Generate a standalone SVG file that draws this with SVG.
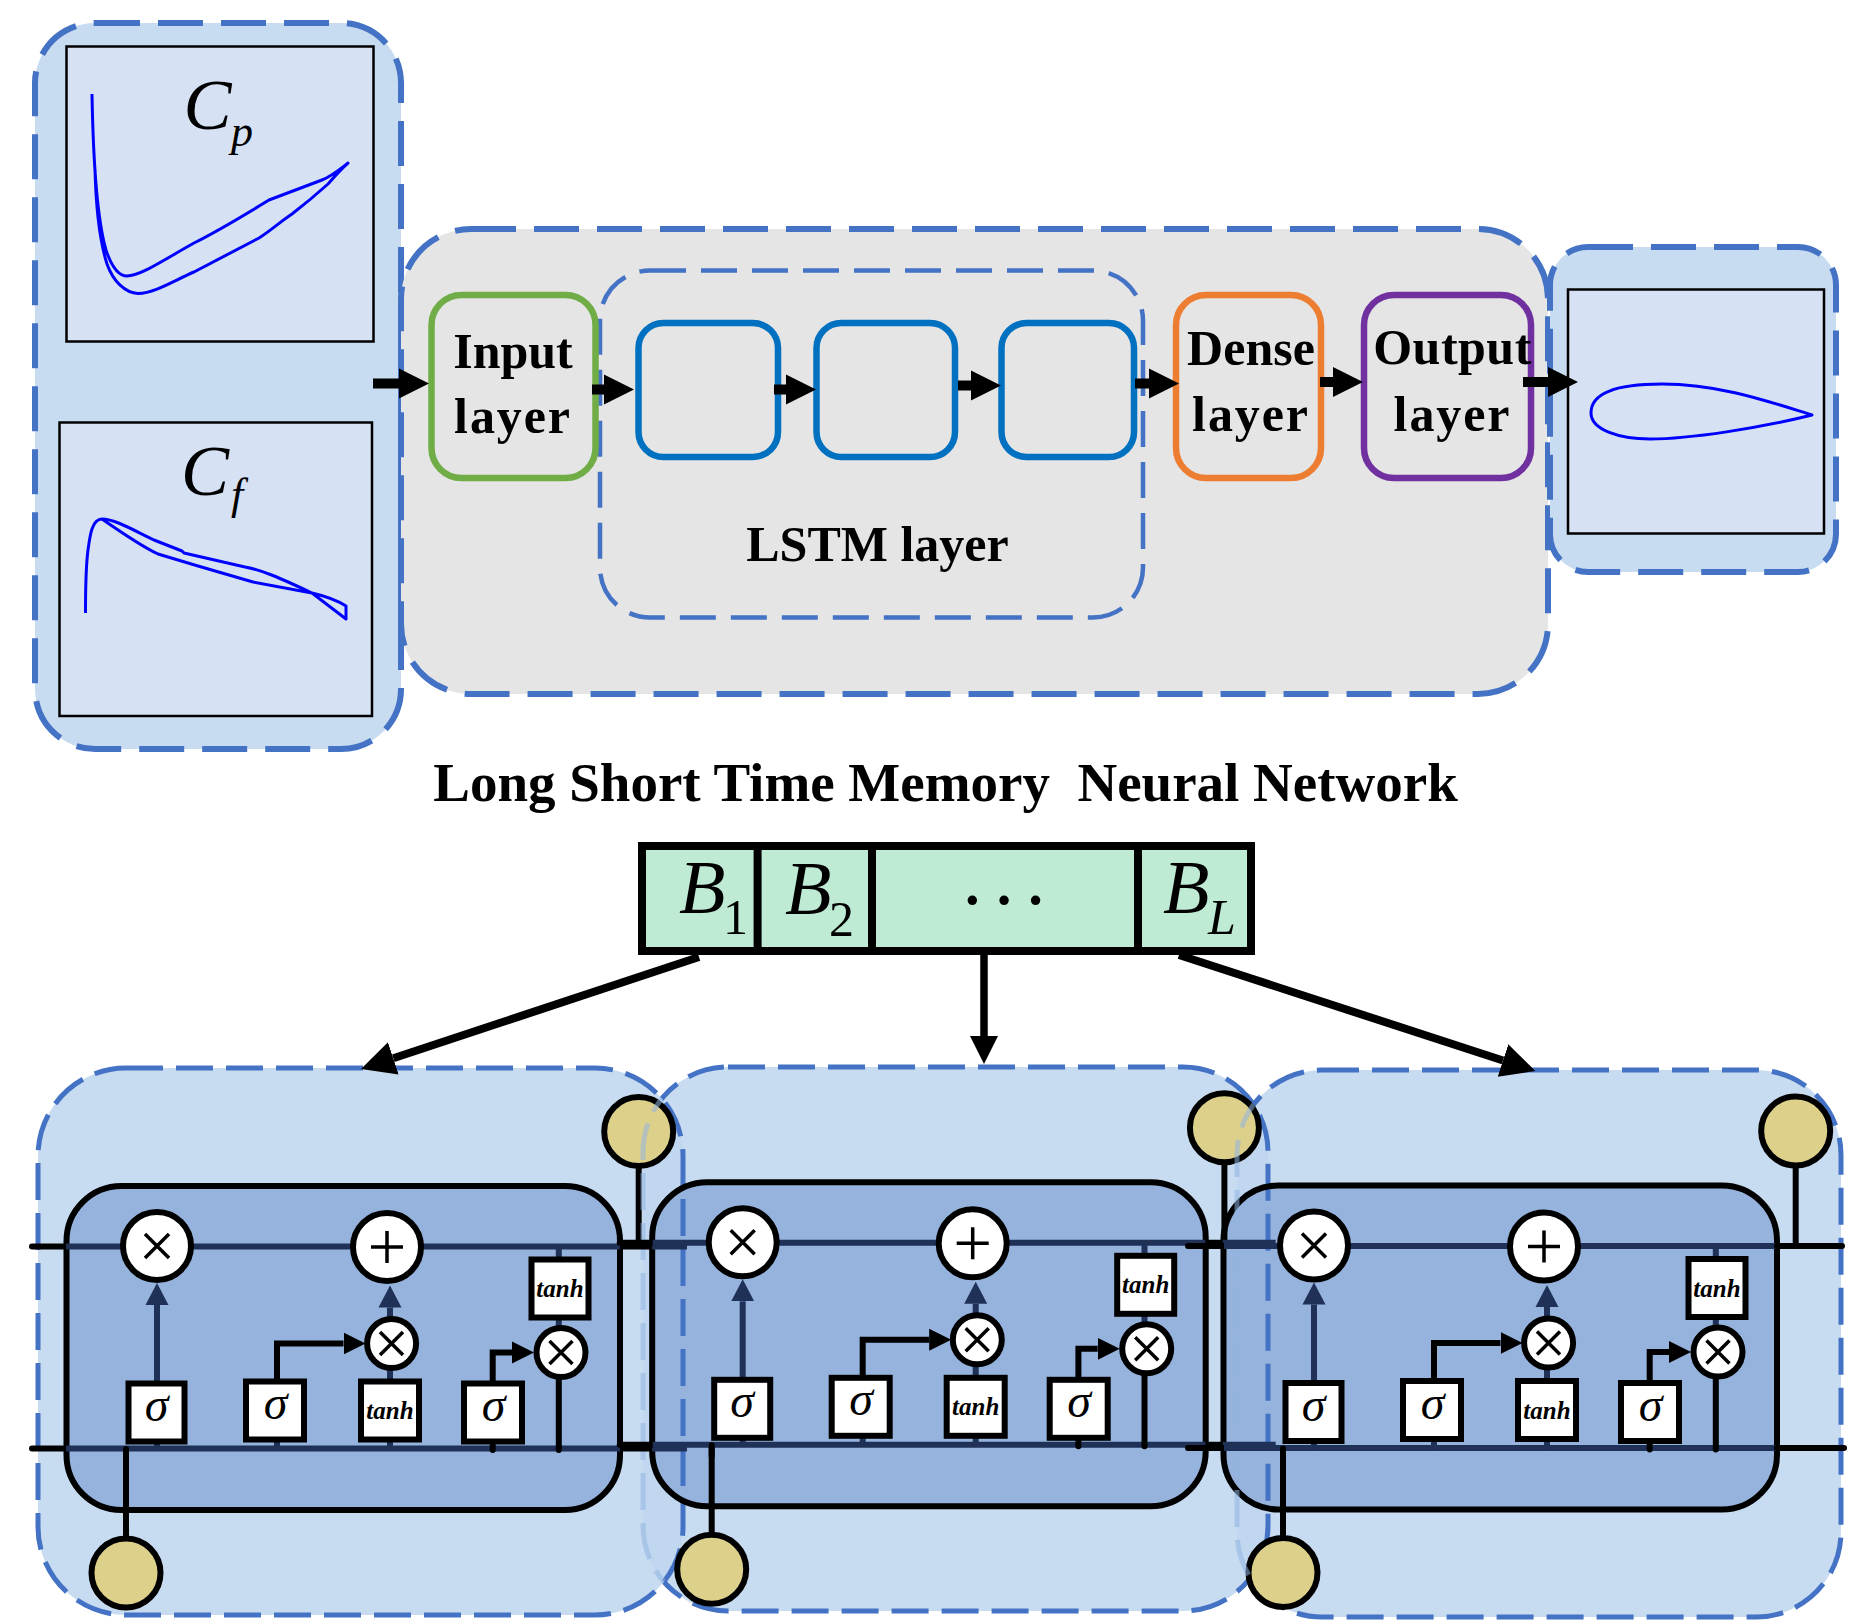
<svg xmlns="http://www.w3.org/2000/svg" width="1856" height="1620" viewBox="0 0 1856 1620">
<style>
text{font-family:"Liberation Serif","Times New Roman",serif;fill:#000}
.lb{font-weight:bold;font-size:50px;text-anchor:middle}
.ly{letter-spacing:1.9px}
.mi{font-style:italic}
.sg{font-style:italic;font-size:48px;text-anchor:middle}
.th{font-style:italic;font-weight:bold;font-size:25px;text-anchor:middle}
.pan{fill:#c8dcf1;stroke:#4472c4;stroke-width:6;stroke-dasharray:45 18}
.gr{fill:#e5e5e5;stroke:#4472c4;stroke-width:6;stroke-dasharray:45 18}
.ls{fill:none;stroke:#4472c4;stroke-width:4.5;stroke-dasharray:36 15}
.plot{fill:#d6e2f3;stroke:#000;stroke-width:2.5}
.cv{fill:none;stroke:#0000ff;stroke-width:3;stroke-linejoin:round}
.cell{fill:none;stroke-width:6.500}
.ar{stroke:#000;stroke-width:10;fill:none;marker-end:url(#hb)}
.am{stroke:#000;stroke-width:7.5;fill:none;marker-end:url(#hm)}
.ad{stroke:#000;stroke-width:8;fill:none;marker-end:url(#hd)}
.ofill{fill:#c8dcf1;stroke:none}
.lens{fill:#a9c6e8;opacity:.22;stroke:none}
.ifill{fill:#95b3dc;stroke:none}
.iline{fill:none;stroke:#000;stroke-width:6}
.ostr{fill:none;stroke:#4472c4;stroke-width:5;stroke-dasharray:37 13}
.ofaint{fill:none;stroke:#8fb4e2;stroke-width:5;stroke-dasharray:37 13;opacity:.55}
.k{stroke:#000;stroke-width:6;fill:none;stroke-linecap:round}
.kb{stroke:#000;stroke-width:6;fill:none}
.nv{stroke:#1f3157;stroke-width:6;fill:none}
.st{fill:#ddd08b;stroke:#000;stroke-width:6}
.op{fill:#fff;stroke:#000;stroke-width:6}
.bx{fill:#fff;stroke:#000;stroke-width:6}
.sy{stroke:#000;stroke-width:3.5;fill:none}
.bar{fill:#bfead4;stroke:#000;stroke-width:8}
</style>
<defs>
<marker id="hb" markerUnits="userSpaceOnUse" markerWidth="32" markerHeight="32" refX="0" refY="16" orient="auto"><path d="M0 1L30 16L0 31Z" fill="#000"/></marker>
<marker id="hm" markerUnits="userSpaceOnUse" markerWidth="32" markerHeight="32" refX="0" refY="16" orient="auto"><path d="M0 2L28 16L0 30Z" fill="#000"/></marker>
<marker id="hd" markerUnits="userSpaceOnUse" markerWidth="36" markerHeight="36" refX="0" refY="18" orient="auto"><path d="M0 1L34 18L0 35Z" fill="#000"/></marker>
<marker id="hn" markerUnits="userSpaceOnUse" markerWidth="26" markerHeight="26" refX="0" refY="13" orient="auto"><path d="M0 1.5L22 13L0 24.5Z" fill="#1f3157"/></marker>
<marker id="hk" markerUnits="userSpaceOnUse" markerWidth="26" markerHeight="26" refX="0" refY="13" orient="auto"><path d="M0 2L22 13L0 24Z" fill="#000"/></marker>
<rect id="o1" x="38" y="1068" width="645" height="547" rx="88"/>
<rect id="o2" x="643" y="1067" width="625" height="544" rx="85"/>
<rect id="o3" x="1237" y="1070" width="604" height="547" rx="85"/>
<rect id="i1" x="66.500" y="1186" width="553.500" height="324" rx="55"/>
<rect id="i2" x="652.200" y="1182.300" width="553.500" height="324" rx="55"/>
<rect id="i3" x="1223.500" y="1185.500" width="553.500" height="324" rx="55"/>
<clipPath id="in1"><use href="#o1"/></clipPath>
<clipPath id="in2"><use href="#o2"/></clipPath>
<clipPath id="out1"><path clip-rule="evenodd" d="M0 0H1856V1620H0Z M126 1068H595A88 88 0 0 1 683 1156V1527A88 88 0 0 1 595 1615H126A88 88 0 0 1 38 1527V1156A88 88 0 0 1 126 1068Z"/></clipPath>
<clipPath id="out2"><path clip-rule="evenodd" d="M0 0H1856V1620H0Z M728 1067H1183A85 85 0 0 1 1268 1152V1526A85 85 0 0 1 1183 1611H728A85 85 0 0 1 643 1526V1152A85 85 0 0 1 728 1067Z"/></clipPath>
</defs>

<g id="input-panel">
<rect class="pan" x="35" y="23" width="366" height="726" rx="60"/>
<g id="cp-plot">
<rect class="plot" x="66.500" y="46.500" width="307" height="295"/>
<path class="cv" d="M92 94C93 150 96 215 106 250C112 268 119 276 127 276C140 276 160 262 194 243C210 235 225 227 269 200L322 180C332 176 340 169 348 163C340 170 335 176 328 184C318 193 305 204 292 214C280 222 270 231 259 238L194 272C175 280 155 293 138 293.500C125 293 113 281 107 264C101 245 96 210 95 169"/>
<text x="183.500" y="129" font-size="72" class="mi">C</text><text x="231" y="146" font-size="44" class="mi">p</text>
</g>
<g id="cf-plot">
<rect class="plot" x="59.500" y="422.500" width="312.500" height="293.500"/>
<path class="cv" d="M85.500 613C85.500 585 86 565 88 550C90 535 92 519 102 519C115 519 135 531 154 540L182 551L184 553L245 567C262 570 280 578 312 593L346 619V606C335 599 325 596 312 593L253 582L198 566L158 554C145 548 125 535 102 519"/>
<text x="181" y="494.500" font-size="72" class="mi">C</text><text x="231" y="509" font-size="44" class="mi">f</text>
</g>
</g>

<g id="network-panel">
<rect class="gr" x="401" y="229" width="1147" height="465" rx="70"/>
<rect class="ls" x="600" y="270.500" width="543" height="347" rx="50"/>
<g id="input-layer"><rect class="cell" stroke="#70ad47" x="431.500" y="295" width="164" height="183" rx="30"/><text class="lb" x="513" y="368">Input</text><text class="lb ly" x="513" y="433">layer</text></g>
<g id="lstm-1"><rect class="cell" stroke="#0070c0" x="638.500" y="323" width="139.500" height="134" rx="25"/></g>
<g id="lstm-2"><rect class="cell" stroke="#0070c0" x="816.500" y="323" width="138.500" height="134" rx="25"/></g>
<g id="lstm-3"><rect class="cell" stroke="#0070c0" x="1001.500" y="323" width="132.500" height="134" rx="25"/></g>
<g id="lstm-label"><text class="lb" x="877.500" y="561">LSTM layer</text></g>
<g id="dense-layer"><rect class="cell" stroke="#ed7d31" x="1176" y="295" width="145" height="183" rx="30"/><text class="lb" x="1251" y="365">Dense</text><text class="lb ly" x="1251" y="431">layer</text></g>
<g id="output-layer"><rect class="cell" stroke="#7030a0" x="1364" y="295" width="167" height="183" rx="30"/><text class="lb" style="letter-spacing:.5px" x="1452.500" y="364">Output</text><text class="lb ly" x="1452.500" y="430.500">layer</text></g>
</g>

<g id="output-panel">
<rect class="pan" x="1550" y="247" width="286" height="325" rx="38"/>
<rect class="plot" x="1568" y="289.500" width="256" height="244"/>
<path class="cv" d="M1812 415C1770 402 1720 384 1662 384C1620 384 1591 392 1591 413C1591 430 1620 439 1650 439C1690 439 1760 428 1812 415Z"/>
</g>

<g id="top-connectors">
<path class="ar" d="M373 383.500H399"/>
<path class="ar" d="M592 389.500H604"/>
<path class="ar" d="M774 389.500H786"/>
<path class="ar" d="M958 385.500H971"/>
<path class="ar" d="M1135 383.500H1149"/>
<path class="ar" d="M1320 382H1333"/>
<path class="ar" d="M1523 382H1548"/>
</g>

<g id="title"><text x="945.500" y="801" font-size="55" font-weight="bold" text-anchor="middle" style="white-space:pre">Long Short Time Memory  Neural Network</text></g>

<g id="sequence">
<rect class="bar" x="642" y="846" width="609" height="105"/>
<path d="M757.600 846V951M872 846V951M1138 846V951" stroke="#000" stroke-width="8" fill="none"/>
<g id="b1"><text x="679" y="913" font-size="76" class="mi">B</text><text x="723" y="934" font-size="50">1</text></g>
<g id="b2"><text x="785" y="914" font-size="76" class="mi">B</text><text x="829" y="936" font-size="50">2</text></g>
<g id="bdots"><text x="959" y="926.500" font-size="80" letter-spacing="5">···</text></g>
<g id="bl"><text x="1163" y="913" font-size="76" class="mi">B</text><text x="1208" y="934" font-size="50" class="mi">L</text></g>
</g>

<g id="cell-backgrounds">
<use href="#o1" class="ofill"/><use href="#o2" class="ofill"/><use href="#o3" class="ofill"/>
<use href="#o2" class="lens" clip-path="url(#in1)"/><use href="#o3" class="lens" clip-path="url(#in2)"/>
<use href="#i1" class="ifill"/><use href="#i2" class="ifill"/><use href="#i3" class="ifill"/>
<use href="#o1" class="ostr"/>
<g clip-path="url(#out1)"><use href="#o2" class="ostr"/></g>
<g clip-path="url(#out2)"><use href="#o3" class="ostr"/></g>
<use href="#i1" class="iline"/><use href="#i2" class="iline"/><use href="#i3" class="iline"/>
</g>

<g id="sequence-connectors">
<path class="ad" d="M699 957L393.300 1058.300"/>
<path class="am" d="M984 955V1036"/>
<path class="ad" d="M1179 955L1503 1060.500"/>
</g>

<g id="cell-1-states">
<path class="kb" d="M638.700 1168V1247"/><circle class="st" cx="638.700" cy="1131.500" r="34.500"/>
<path class="kb" d="M126 1449V1540"/><circle class="st" cx="126" cy="1573" r="34.500"/>
</g>
<g id="cell-2-states" transform="translate(585.700,-3.700)">
<path class="kb" d="M638.700 1168V1247"/><circle class="st" cx="638.700" cy="1131.500" r="34.500"/>
<path class="kb" d="M126 1449V1540"/><circle class="st" cx="126" cy="1573" r="34.500"/>
</g>
<g id="cell-3-states" transform="translate(1157,-0.500)">
<path class="kb" d="M638.700 1168V1247"/><circle class="st" cx="638.700" cy="1131.500" r="34.500"/>
<path class="kb" d="M126 1449V1540"/><circle class="st" cx="126" cy="1573" r="34.500"/>
</g>
<g id="cell-overlaps">
<g clip-path="url(#in1)"><use href="#o2" class="ofaint"/></g>
<g clip-path="url(#in2)"><use href="#o3" class="ofaint"/></g>
</g>

<g id="cell-1">
<path class="k" d="M32 1246.500H66M32 1448.500H66"/>
<path class="nv" d="M66 1246.500H620M66 1448.500H620"/>
<path class="kb" d="M620 1246.500H652M620 1448.500H652"/>
<path class="nv" d="M652 1246.500H687M652 1448.500H687"/>
<path class="nv" d="M157 1442V1449M277 1442V1449M390 1442V1449M558.800 1247V1258M558.800 1318V1328M390 1380V1364"/>
<path class="nv" d="M157 1383V1305" style="marker-end:url(#hn)"/>
<path class="nv" d="M390 1322V1307.500" style="marker-end:url(#hn)"/>
<path class="k" d="M126 1449V1460M492.700 1443V1450M558.800 1376V1450"/>
<path class="kb" d="M277 1381V1343.500H343.500" style="marker-end:url(#hk)"/>
<path class="kb" d="M492.700 1383V1352.500H512" style="marker-end:url(#hk)"/>
<g id="c1-mul"><circle class="op" cx="157" cy="1246" r="34"/><path class="sy" d="M145 1234L169 1258M169 1234L145 1258"/></g>
<g id="c1-add"><circle class="op" cx="387" cy="1247" r="34"/><path class="sy" d="M371 1247H403M387 1231V1263"/></g>
<g id="c1-mul2"><circle class="op" cx="391.600" cy="1343.500" r="24.500"/><path class="sy" d="M380 1332L403 1355M403 1332L380 1355"/></g>
<g id="c1-mul3"><circle class="op" cx="561" cy="1352.500" r="24.500"/><path class="sy" d="M549.500 1341L572.500 1364M572.500 1341L549.500 1364"/></g>
<g id="c1-s1"><rect class="bx" x="128.500" y="1383.500" width="56" height="58"/><text class="sg" x="156.500" y="1421">σ</text></g>
<g id="c1-s2"><rect class="bx" x="246" y="1381.500" width="58" height="58"/><text class="sg" x="275.500" y="1419">σ</text></g>
<g id="c1-t1"><rect class="bx" x="361" y="1381.500" width="58" height="58"/><text class="th" x="390" y="1419">tanh</text></g>
<g id="c1-s3"><rect class="bx" x="464" y="1383.500" width="58" height="58"/><text class="sg" x="493.500" y="1421">σ</text></g>
<g id="c1-t2"><rect class="bx" x="531.500" y="1259.500" width="57" height="58"/><text class="th" x="560" y="1297">tanh</text></g>
</g>

<g id="cell-2" transform="translate(585.700,-3.700)">
<path class="k" d="M34 1246.500H67M34 1448.500H67"/>
<path class="nv" d="M67 1246.500H620M67 1448.500H620"/>
<path class="kb" d="M620 1246.500H637M620 1448.500H637"/>
<path class="nv" d="M637 1246.500H690M637 1448.500H690"/>
<path class="nv" d="M157 1442V1449M277 1442V1449M390 1442V1449M558.800 1247V1258M558.800 1318V1328M390 1380V1364"/>
<path class="nv" d="M157 1383V1305" style="marker-end:url(#hn)"/>
<path class="nv" d="M390 1322V1307.500" style="marker-end:url(#hn)"/>
<path class="k" d="M126 1449V1460M492.700 1443V1450M558.800 1376V1450"/>
<path class="kb" d="M277 1381V1343.500H343.500" style="marker-end:url(#hk)"/>
<path class="kb" d="M492.700 1383V1352.500H512" style="marker-end:url(#hk)"/>
<g id="c2-mul"><circle class="op" cx="157" cy="1246" r="34"/><path class="sy" d="M145 1234L169 1258M169 1234L145 1258"/></g>
<g id="c2-add"><circle class="op" cx="387" cy="1247" r="34"/><path class="sy" d="M371 1247H403M387 1231V1263"/></g>
<g id="c2-mul2"><circle class="op" cx="391.600" cy="1343.500" r="24.500"/><path class="sy" d="M380 1332L403 1355M403 1332L380 1355"/></g>
<g id="c2-mul3"><circle class="op" cx="561" cy="1352.500" r="24.500"/><path class="sy" d="M549.500 1341L572.500 1364M572.500 1341L549.500 1364"/></g>
<g id="c2-s1"><rect class="bx" x="128.500" y="1383.500" width="56" height="58"/><text class="sg" x="156.500" y="1421">σ</text></g>
<g id="c2-s2"><rect class="bx" x="246" y="1381.500" width="58" height="58"/><text class="sg" x="275.500" y="1419">σ</text></g>
<g id="c2-t1"><rect class="bx" x="361" y="1381.500" width="58" height="58"/><text class="th" x="390" y="1419">tanh</text></g>
<g id="c2-s3"><rect class="bx" x="464" y="1383.500" width="58" height="58"/><text class="sg" x="493.500" y="1421">σ</text></g>
<g id="c2-t2"><rect class="bx" x="531.500" y="1259.500" width="57" height="58"/><text class="th" x="560" y="1297">tanh</text></g>
</g>

<g id="cell-3" transform="translate(1157,-0.500)">
<path class="k" d="M31 1246.500H67M31 1448.500H67"/>
<path class="nv" d="M67 1246.500H620M67 1448.500H620"/>
<path class="k" d="M620 1246.500H685M620 1448.500H687"/>
<path class="nv" d="M157 1442V1449M277 1442V1449M390 1442V1449M558.800 1247V1258M558.800 1318V1328M390 1380V1364"/>
<path class="nv" d="M157 1383V1305" style="marker-end:url(#hn)"/>
<path class="nv" d="M390 1322V1307.500" style="marker-end:url(#hn)"/>
<path class="k" d="M126 1449V1460M492.700 1443V1450M558.800 1376V1450"/>
<path class="kb" d="M277 1381V1343.500H343.500" style="marker-end:url(#hk)"/>
<path class="kb" d="M492.700 1383V1352.500H512" style="marker-end:url(#hk)"/>
<g id="c3-mul"><circle class="op" cx="157" cy="1246" r="34"/><path class="sy" d="M145 1234L169 1258M169 1234L145 1258"/></g>
<g id="c3-add"><circle class="op" cx="387" cy="1247" r="34"/><path class="sy" d="M371 1247H403M387 1231V1263"/></g>
<g id="c3-mul2"><circle class="op" cx="391.600" cy="1343.500" r="24.500"/><path class="sy" d="M380 1332L403 1355M403 1332L380 1355"/></g>
<g id="c3-mul3"><circle class="op" cx="561" cy="1352.500" r="24.500"/><path class="sy" d="M549.500 1341L572.500 1364M572.500 1341L549.500 1364"/></g>
<g id="c3-s1"><rect class="bx" x="128.500" y="1383.500" width="56" height="58"/><text class="sg" x="156.500" y="1421">σ</text></g>
<g id="c3-s2"><rect class="bx" x="246" y="1381.500" width="58" height="58"/><text class="sg" x="275.500" y="1419">σ</text></g>
<g id="c3-t1"><rect class="bx" x="361" y="1381.500" width="58" height="58"/><text class="th" x="390" y="1419">tanh</text></g>
<g id="c3-s3"><rect class="bx" x="464" y="1383.500" width="58" height="58"/><text class="sg" x="493.500" y="1421">σ</text></g>
<g id="c3-t2"><rect class="bx" x="531.500" y="1259.500" width="57" height="58"/><text class="th" x="560" y="1297">tanh</text></g>
</g>
</svg>
